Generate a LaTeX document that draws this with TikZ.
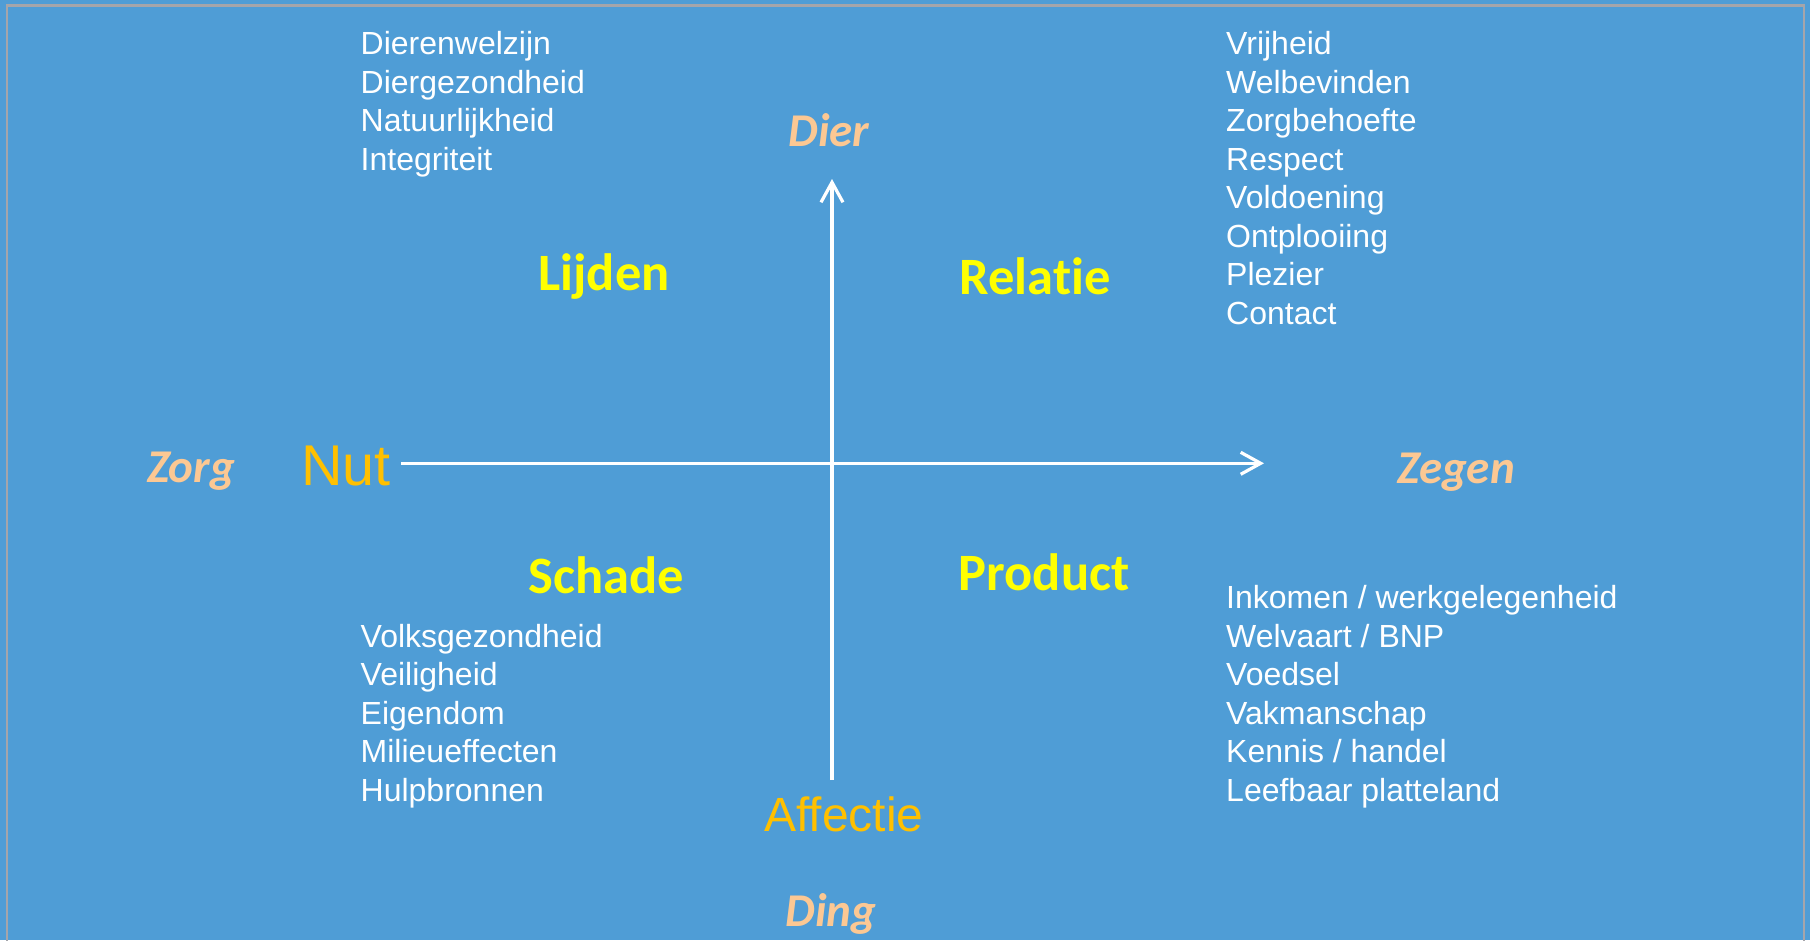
\documentclass[tikz,border=0pt]{standalone}
\usepackage{fontspec}
\setmainfont{Liberation Sans}
\newfontfamily\calib[Ligatures=NoCommon]{Carlito}
\usetikzlibrary{arrows.meta}
\definecolor{bgblue}{RGB}{79,157,214}
\definecolor{peach}{RGB}{252,200,147}
\definecolor{amber}{RGB}{255,192,0}
\definecolor{brightyellow}{RGB}{255,255,0}
\definecolor{framegray}{RGB}{165,165,170}
\tikzset{
  listtext/.style={anchor=base west, inner sep=0pt, text=white, font=\fontsize{32}{38}\selectfont},
  polelabel/.style={anchor=base, inner sep=0pt, text=peach, font=\calib\bfseries\itshape\fontsize{47}{56}\selectfont},
  quadlabel/.style={anchor=base, inner sep=0pt, text=brightyellow, font=\calib\bfseries\fontsize{52.5}{62}\selectfont},
  axislabel/.style={anchor=base, inner sep=0pt, text=amber},
  axisline/.style={draw=white, line width=3.2pt, -{Straight Barb[length=20pt,width=22pt]}}
}
\begin{document}
\begin{tikzpicture}[x=1pt,y=-1pt]
\fill[bgblue] (0,0) rectangle (1810,940);
\useasboundingbox (0,0) rectangle (1810,940);
\draw[framegray, line width=2.5pt] (7,5.5) rectangle (1804,960);

% top-left list
\foreach \t [count=\i] in {Dierenwelzijn,Diergezondheid,Natuurlijkheid,Integriteit}
  \node[listtext] (tl\i) at (360.5,{54.5+38.5*(\i-1)}) {\t};
% top-right list
\foreach \t [count=\i] in {Vrijheid,Welbevinden,Zorgbehoefte,Respect,Voldoening,Ontplooiing,Plezier,Contact}
  \node[listtext] (tr\i) at (1226,{54.5+38.5*(\i-1)}) {\t};
% bottom-left list
\foreach \t [count=\i] in {Volksgezondheid,Veiligheid,Eigendom,Milieueffecten,Hulpbronnen}
  \node[listtext] (bl\i) at (360.5,{647+38.5*(\i-1)}) {\t};
% bottom-right list
\foreach \t [count=\i] in {Inkomen / werkgelegenheid,Welvaart / BNP,Voedsel,Vakmanschap,Kennis / handel,Leefbaar platteland}
  \node[listtext] (br\i) at (1226,{608.5+38.5*(\i-1)}) {\t};

% pole labels
\node[polelabel] (dier) at (829,146) {Dier};
\node[polelabel] (ding) at (831,926) {Ding};
\node[polelabel] (zorg) at (191,482) {Zorg};
\node[polelabel] (zegen) at (1456,483) {Zegen};

% quadrant labels
\node[quadlabel] (lijden) at (604,290) {Lijden};
\node[quadlabel] (relatie) at (1035,294) {Relatie};
\node[quadlabel] (schade) at (606,593) {Schade};
\node[quadlabel] (product) at (1044,590) {Product};

% axis labels
\node[axislabel, font=\fontsize{57.5}{68}\selectfont] (nut) at (346,485) {Nut};
\node[axislabel, font=\fontsize{48}{58}\selectfont] (affectie) at (844,831.5) {Affectie};

% axes
\coordinate (hL) at (401,463.3);
\coordinate (hR) at (1264,463.3);
\coordinate (vB) at (832,780);
\coordinate (vT) at (832,179);
\draw[axisline] (hL) -- (hR);
\draw[axisline] (vB) -- (vT);
\end{tikzpicture}
\end{document}
